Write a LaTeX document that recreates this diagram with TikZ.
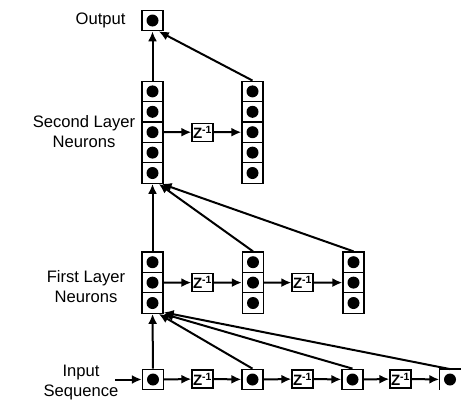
\documentclass[tikz,border=0pt]{standalone}
\usepackage{fontspec}
\setmainfont{Liberation Sans}
\usetikzlibrary{arrows.meta,calc}
\tikzset{
  cell/.style={draw, line width=1.3pt, minimum width=21pt, minimum height=20.4pt, inner sep=0pt,
    path picture={\fill (path picture bounding box.center) circle (6pt);}},
  opencell/.style={minimum width=21pt, minimum height=20.4pt, inner sep=0pt,
    path picture={\fill (path picture bounding box.center) circle (6pt);}},
  zbox/.style={draw, line width=1.3pt, minimum width=21pt, minimum height=18pt, inner sep=0pt,
    font=\fontsize{15}{15}\selectfont\bfseries},
  arr/.style={line width=2pt, -{Latex[length=10pt,width=9pt]}},
  lbl/.style={font=\fontsize{16.6}{20}\selectfont, align=center}
}
\begin{document}
\begin{tikzpicture}[x=1pt,y=-1pt]
\useasboundingbox (0,0) rectangle (475,402);
% output
\node[cell] (out) at (152.5,20.5) {};
% second layer
\foreach \i in {1,...,5} {
  \node[cell] (sa\i) at (152.5,{71+\i*20.4}) {};
  \node[cell] (sb\i) at (252.5,{71+\i*20.4}) {};
}
\node[zbox] (z2) at (202.5,132.2) {Z\textsuperscript{-1}};
% first layer
\foreach \i in {1,...,3} {
  \node[cell] (fa\i) at (152.5,{241.8+\i*20.4}) {};
  \node[cell] (fb\i) at (253,{241.8+\i*20.4}) {};
  \node[cell] (fc\i) at (353.5,{241.8+\i*20.4}) {};
}
\node[zbox] (za) at (202.5,282.6) {Z\textsuperscript{-1}};
\node[zbox] (zb) at (302.5,282.6) {Z\textsuperscript{-1}};
% input row
\node[cell] (i1) at (153,379.5) {};
\node[cell] (i2) at (252.5,379.5) {};
\node[cell] (i3) at (352.5,379.5) {};
\node[opencell] (i4) at (450,379.5) {};
\draw[line width=1.3pt] (i4.south west) -- (i4.north west) -- (i4.north east);
\node[zbox] (zi1) at (202.5,379) {Z\textsuperscript{-1}};
\node[zbox] (zi2) at (302.5,379) {Z\textsuperscript{-1}};
\node[zbox] (zi3) at (400.5,379) {Z\textsuperscript{-1}};
\coordinate (inp) at (115,379.5);
% labels
\node[lbl, anchor=east] (tout) at (129,20) {Output};
\node[lbl] (t2) at (84,132) {Second Layer\\Neurons};
\node[lbl] (t1) at (86,286.5) {First Layer\\Neurons};
\node[lbl] (t0) at (81,382.5) {Input\\Sequence};
% arrows to output
\draw[arr] (sa1) -- (out);
\draw[arr] (sb1.north) -- (out.-60);
\draw[arr] (sa3) -- (z2);
\draw[arr] (z2) -- (sb3);
% first layer to second layer
\draw[arr] (fa1) -- (sa5);
\draw[arr] (fb1.north) -- (sa5.-60);
\draw[arr] (fc1.north) -- (sa5.-50);
\draw[arr] (fa2) -- (za);
\draw[arr] (za) -- (fb2);
\draw[arr] (fb2) -- (zb);
\draw[arr] (zb) -- (fc2);
% input to first layer
\draw[arr] (i1) -- (fa3);
\draw[arr] (i2.north) -- (fa3.-60);
\draw[arr] (i3.north) -- (fa3.-45);
\draw[arr] (i4.north) -- (fa3.-40);
\draw[arr] (inp) -- (i1);
\draw[arr] (i1) -- (zi1);
\draw[arr] (zi1) -- (i2);
\draw[arr] (i2) -- (zi2);
\draw[arr] (zi2) -- (i3);
\draw[arr] (i3) -- (zi3);
\draw[arr] (zi3) -- (i4);
\end{tikzpicture}
\end{document}
